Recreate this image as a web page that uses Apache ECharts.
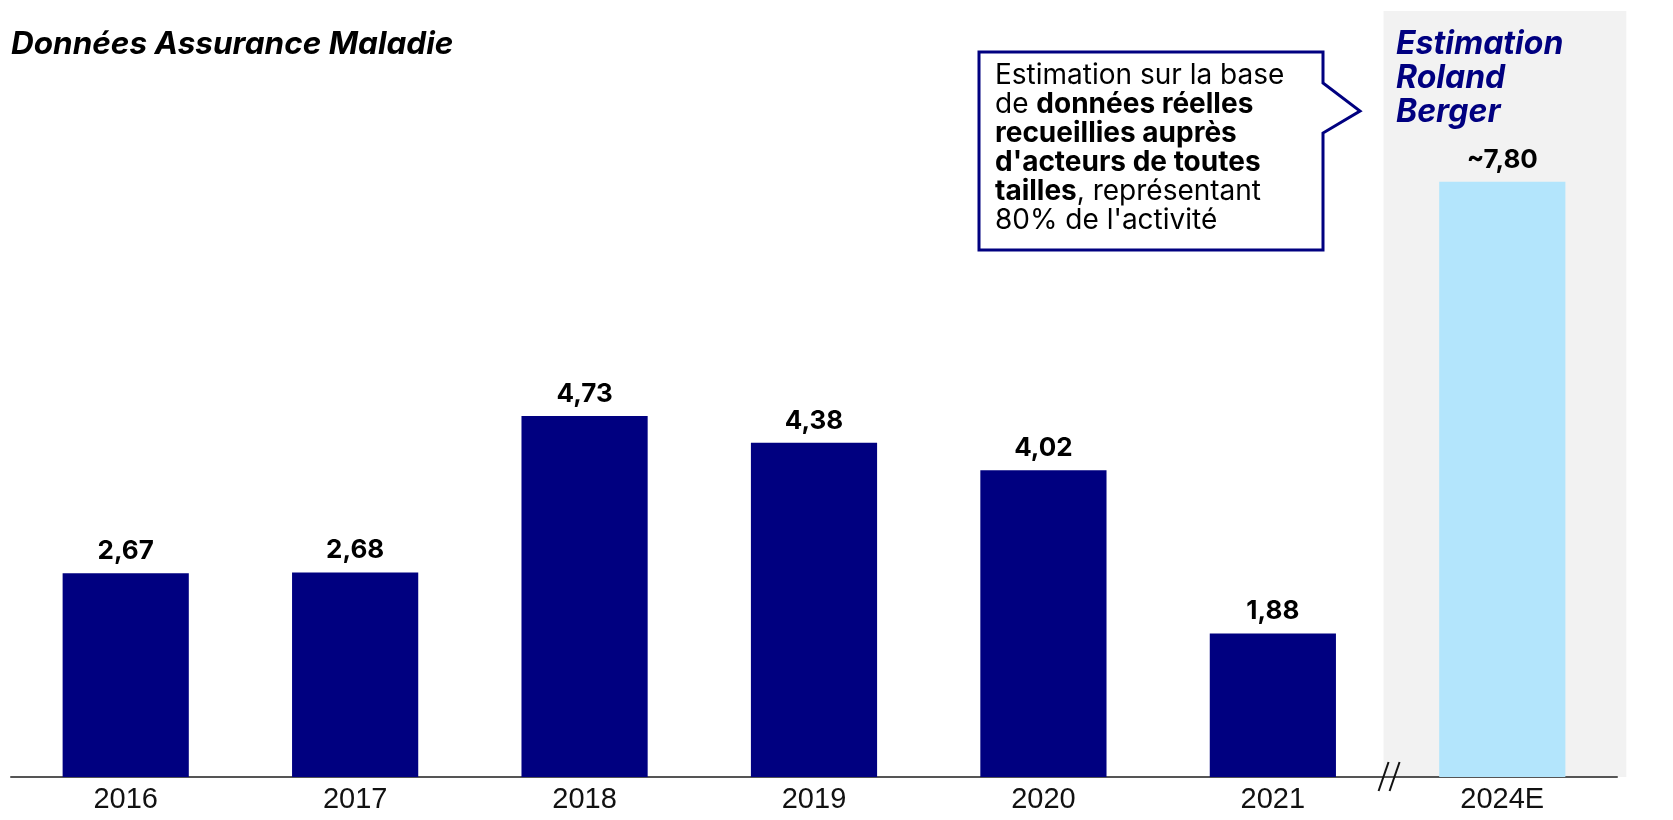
<!DOCTYPE html>
<html>
<head>
<meta charset="utf-8">
<script src="https://cdn.jsdelivr.net/npm/echarts@6/dist/echarts.min.js"></script>
<style>
html,body{margin:0;padding:0;background:#fff;}
#chart{width:1673px;height:820px;}
</style>
</head>
<body>
<div id="chart"></div>
<script>
// ---- data ----
const categories = ['2016', '2017', '2018', '2019', '2020', '2021', '2024E'];
const values = [2.67, 2.68, 4.73, 4.38, 4.02, 1.88, 7.80];
const estimatedCategories = ['2024E'];
const titleText = 'Données Assurance Maladie';
const estimateTitleLines = ['Estimation', 'Roland', 'Berger'];
const noteLines = [
  'Estimation sur la base',
  'de {b|données réelles}',
  '{b|recueillies auprès}',
  "{b|d'acteurs de toutes}",
  '{b|tailles}, représentant',
  "80% de l'activité"
];

// ---- styles ----
const NAVY = '#000080';
const LIGHT = '#b3e5fc';
const GREY_BG = '#f2f2f2';
const FONT = 'Inter, "Noto Sans", sans-serif';
const AXIS_FONT = '"Liberation Sans", Arial, sans-serif';

const chart = echarts.init(document.getElementById('chart'), null, {renderer: 'canvas'});

const seriesData = categories.map((c, i) => {
  const est = estimatedCategories.includes(c);
  return {
    value: values[i],
    itemStyle: {color: est ? LIGHT : NAVY},
    label: {formatter: (est ? '~' : '') + values[i].toFixed(2).replace('.', ',')}
  };
});

chart.setOption({
  animation: false,
  grid: {left: 11, right: 56, top: 14, bottom: 43},
  xAxis: {
    type: 'category',
    data: categories,
    axisLine: {lineStyle: {color: '#555', width: 2}},
    axisTick: {show: false},
    axisLabel: {color: '#111', fontFamily: AXIS_FONT, fontSize: 29, margin: 8}
  },
  yAxis: {type: 'value', min: 0, max: 10, show: false, splitLine: {show: false}},
  series: [{
    type: 'bar',
    data: seriesData,
    barCategoryGap: '45%',
    z: 3,
    label: {
      show: true,
      position: 'top',
      distance: 9,
      color: '#000',
      fontFamily: FONT,
      fontWeight: 'bold',
      fontSize: 26
    }
  }]
});

function decorate() {
  const n = categories.length;
  const cLast = chart.convertToPixel({xAxisIndex: 0}, categories[n - 1]);
  const cPrev = chart.convertToPixel({xAxisIndex: 0}, categories[n - 2]);
  const yTop = chart.convertToPixel({yAxisIndex: 0}, 10);
  const y0 = chart.convertToPixel({yAxisIndex: 0}, 0);
  const mid = (cLast + cPrev) / 2;

  const graphics = [
    // grey background for estimate
    {type: 'rect', z: -10, silent: true,
     shape: {x: mid - 4, y: yTop - 3, width: cLast + 124 - (mid - 4), height: y0 - (yTop - 3)},
     style: {fill: GREY_BG}},
    // break marks
    {type: 'line', z: 100, shape: {x1: mid - 9, y1: y0 + 14, x2: mid + 1, y2: y0 - 15},
     style: {stroke: '#111', lineWidth: 2}},
    {type: 'line', z: 100, shape: {x1: mid + 2, y1: y0 + 14, x2: mid + 12, y2: y0 - 15},
     style: {stroke: '#111', lineWidth: 2}},
    // title
    {type: 'text', x: 11, y: 29,
     style: {text: titleText, fill: '#000', font: 'italic bold 31.5px ' + FONT, verticalAlign: 'top'}},
    // estimate title
    {type: 'text', x: 1396, y: 27,
     style: {text: estimateTitleLines.join('\n'), fill: NAVY, font: 'italic bold 32px ' + FONT,
             lineHeight: 34, verticalAlign: 'top'}},
    // callout box
    {type: 'polygon', z: 50,
     shape: {points: [[979, 52], [1323, 52], [1323, 83], [1360, 111], [1323, 133], [1323, 250], [979, 250]]},
     style: {fill: '#fff', stroke: NAVY, lineWidth: 3, lineJoin: 'miter'}},
    {type: 'text', z: 51, x: 995, y: 61,
     style: {
       text: noteLines.join('\n'),
       fill: '#000',
       fontFamily: FONT,
       fontSize: 28,
       lineHeight: 29,
       verticalAlign: 'top',
       rich: {b: {fontFamily: FONT, fontSize: 28, fontWeight: 'bold', lineHeight: 29, fill: '#000'}}
     }}
  ];
  chart.setOption({graphic: graphics});
}
decorate();
</script>
</body>
</html>
